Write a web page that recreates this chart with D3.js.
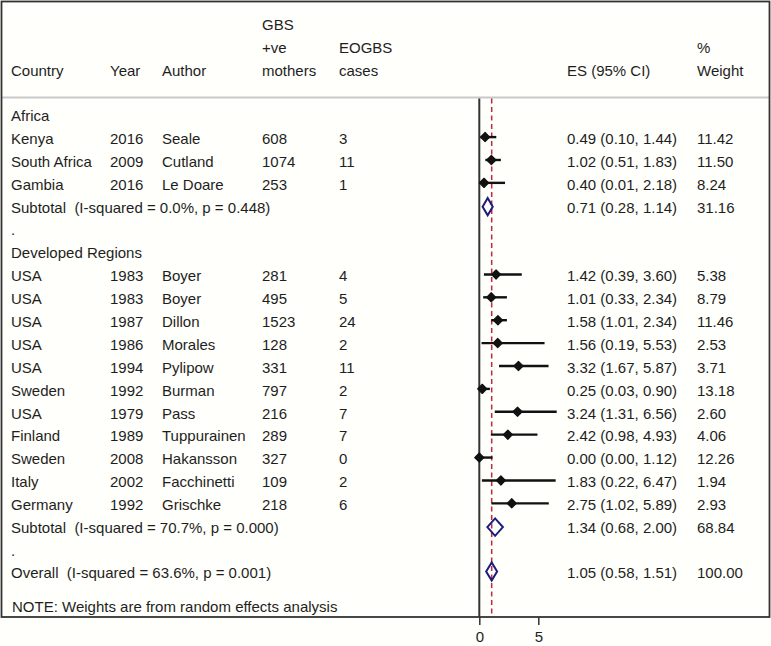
<!DOCTYPE html>
<html>
<head>
<meta charset="utf-8">
<script src="https://cdn.jsdelivr.net/npm/d3@7/dist/d3.min.js"></script>
<style>
  html, body { margin: 0; padding: 0; background: #fffffb; }
  svg { display: block; }
  text { font-family: "Liberation Sans", Arial, sans-serif; font-size: 15px; fill: #1e1e1e; white-space: pre; }
</style>
</head>
<body>
<script>
// ---- Data ----
const headerCols = [
  ["Country"], ["Year"], ["Author"], ["GBS", "+ve", "mothers"], ["EOGBS", "cases"], ["ES (95% CI)"], ["%", "Weight"]
];
const groups = ["Africa", "Developed Regions"];
const countries = ["Kenya", "South Africa", "Gambia",
  "USA", "USA", "USA", "USA", "USA", "Sweden", "USA", "Finland", "Sweden", "Italy", "Germany"];
const studyGroup = [0, 0, 0, 1, 1, 1, 1, 1, 1, 1, 1, 1, 1, 1];
const years = [2016, 2009, 2016, 1983, 1983, 1987, 1986, 1994, 1992, 1979, 1989, 2008, 2002, 1992];
const authors = ["Seale", "Cutland", "Le Doare", "Boyer", "Boyer", "Dillon", "Morales", "Pylipow",
  "Burman", "Pass", "Tuppurainen", "Hakansson", "Facchinetti", "Grischke"];
const gbsMothers = [608, 1074, 253, 281, 495, 1523, 128, 331, 797, 216, 289, 327, 109, 218];
const eogbsCases = [3, 11, 1, 4, 5, 24, 2, 11, 2, 7, 7, 0, 2, 6];
const es = [0.49, 1.02, 0.40, 1.42, 1.01, 1.58, 1.56, 3.32, 0.25, 3.24, 2.42, 0.00, 1.83, 2.75];
const ciLow = [0.10, 0.51, 0.01, 0.39, 0.33, 1.01, 0.19, 1.67, 0.03, 1.31, 0.98, 0.00, 0.22, 1.02];
const ciHigh = [1.44, 1.83, 2.18, 3.60, 2.34, 2.34, 5.53, 5.87, 0.90, 6.56, 4.93, 1.12, 6.47, 5.89];
const weights = [11.42, 11.50, 8.24, 5.38, 8.79, 11.46, 2.53, 3.71, 13.18, 2.60, 4.06, 12.26, 1.94, 2.93];

const subLabels = ["Subtotal  (I-squared = 0.0%, p = 0.448)", "Subtotal  (I-squared = 70.7%, p = 0.000)"];
const subES = [0.71, 1.34];
const subLow = [0.28, 0.68];
const subHigh = [1.14, 2.00];
const subWeight = [31.16, 68.84];

const overallLabel = "Overall  (I-squared = 63.6%, p = 0.001)";
const overallES = 1.05, overallLow = 0.58, overallHigh = 1.51, overallWeight = 100.00;
const noteText = "NOTE: Weights are from random effects analysis";
const xTicks = [0, 5];

// ---- Layout ----
const W = 771, H = 646;
const colX = [11, 110, 162, 262, 339, 567, 697];
const headBase = [30, 53, 76];
const firstBase = 121, rowStep = 22.89;
const plotTop = 97.5, plotBottom = 617;

const svg = d3.select("body").append("svg").attr("width", W).attr("height", H);
svg.append("rect").attr("width", W).attr("height", H).attr("fill", "#fffffb");

const x = d3.scaleLinear().domain([0, 5]).range([479.3, 538.3]);
const fmt = d3.format(".2f");

// Build rows
const rows = [];
groups.forEach((g, gi) => {
  rows.push({type: "group", label: g});
  countries.forEach((c, i) => {
    if (studyGroup[i] === gi) rows.push({type: "study", i});
  });
  rows.push({type: "sub", gi});
  rows.push({type: "dot"});
});
rows.push({type: "overall"});

const yBase = i => firstBase + i * rowStep;

// Header separator
svg.append("line").attr("x1", 2).attr("x2", 769).attr("y1", plotTop).attr("y2", plotTop)
  .attr("stroke", "#c9c9c9").attr("stroke-width", 2);

// Header text
headerCols.forEach((lines, ci) => {
  const n = lines.length;
  lines.forEach((t, li) => {
    svg.append("text").attr("x", colX[ci]).attr("y", headBase[3 - n + li]).text(t);
  });
});

// Null line and overall line
svg.append("line").attr("x1", x(0)).attr("x2", x(0)).attr("y1", plotTop + 1).attr("y2", plotBottom)
  .attr("stroke", "#333").attr("stroke-width", 2);
svg.append("line").attr("x1", x(overallES)).attr("x2", x(overallES)).attr("y1", plotTop + 1).attr("y2", plotBottom)
  .attr("stroke", "#c0283a").attr("stroke-width", 1.5).attr("stroke-dasharray", "5,3.5");

function diamond(cx, lo, hi, cy, hh) {
  return `M${x(lo)},${cy} L${x(cx)},${cy - hh} L${x(hi)},${cy} L${x(cx)},${cy + hh} Z`;
}

rows.forEach((r, ri) => {
  const yb = yBase(ri);
  const ym = yb - 6.8;
  if (r.type === "group") {
    svg.append("text").attr("x", colX[0]).attr("y", yb).text(r.label);
  } else if (r.type === "dot") {
    svg.append("text").attr("x", colX[0]).attr("y", yb).text(".");
  } else if (r.type === "study") {
    const i = r.i;
    const vals = [countries[i], years[i], authors[i], gbsMothers[i], eogbsCases[i]];
    vals.forEach((v, ci) => svg.append("text").attr("x", colX[ci]).attr("y", yb).text(v));
    svg.append("text").attr("x", colX[5]).attr("y", yb)
      .text(`${fmt(es[i])} (${fmt(ciLow[i])}, ${fmt(ciHigh[i])})`);
    svg.append("text").attr("x", colX[6]).attr("y", yb).text(fmt(weights[i]));
    svg.append("line").attr("x1", x(ciLow[i])).attr("x2", x(ciHigh[i])).attr("y1", ym).attr("y2", ym)
      .attr("stroke", "#111").attr("stroke-width", 2.4);
    svg.append("path")
      .attr("d", `M${x(es[i]) - 4.6},${ym} L${x(es[i])},${ym - 4.6} L${x(es[i]) + 4.6},${ym} L${x(es[i])},${ym + 4.6} Z`)
      .attr("fill", "#111").attr("stroke", "#111").attr("stroke-width", 1.2).attr("stroke-linejoin", "round");
  } else if (r.type === "sub") {
    const g = r.gi;
    svg.append("text").attr("x", colX[0]).attr("y", yb).text(subLabels[g]);
    svg.append("text").attr("x", colX[5]).attr("y", yb)
      .text(`${fmt(subES[g])} (${fmt(subLow[g])}, ${fmt(subHigh[g])})`);
    svg.append("text").attr("x", colX[6]).attr("y", yb).text(fmt(subWeight[g]));
    svg.append("path").attr("d", diamond(subES[g], subLow[g], subHigh[g], yb - 5.9, 8.7))
      .attr("fill", "none").attr("stroke", "#1c1c7c").attr("stroke-width", 2);
  } else if (r.type === "overall") {
    svg.append("text").attr("x", colX[0]).attr("y", yb - 1).text(overallLabel);
    svg.append("text").attr("x", colX[5]).attr("y", yb - 1)
      .text(`${fmt(overallES)} (${fmt(overallLow)}, ${fmt(overallHigh)})`);
    svg.append("text").attr("x", colX[6]).attr("y", yb - 1).text(fmt(overallWeight));
    svg.append("path").attr("d", diamond(overallES, overallLow, overallHigh, yb - 7.3, 9))
      .attr("fill", "none").attr("stroke", "#1c1c7c").attr("stroke-width", 2);
  }
});

// Note
svg.append("text").attr("x", 12).attr("y", 611.5).text(noteText);

// Frame
svg.append("rect").attr("x", 1.5).attr("y", 1.5).attr("width", 768).attr("height", plotBottom - 1.5)
  .attr("fill", "none").attr("stroke", "#333").attr("stroke-width", 1.8);

// Axis
const axis = d3.axisBottom(x).tickValues(xTicks).tickFormat(d3.format("d")).tickSize(8).tickPadding(4);
const ag = svg.append("g").attr("transform", `translate(0,${plotBottom})`).call(axis);
ag.select(".domain").remove();
ag.selectAll(".tick line").attr("stroke", "#333").attr("stroke-width", 1.5);
ag.selectAll(".tick text").attr("font-family", "Liberation Sans, Arial, sans-serif").attr("font-size", 15)
  .attr("fill", "#1e1e1e").attr("dy", null).attr("y", 25);
</script>
</body>
</html>
